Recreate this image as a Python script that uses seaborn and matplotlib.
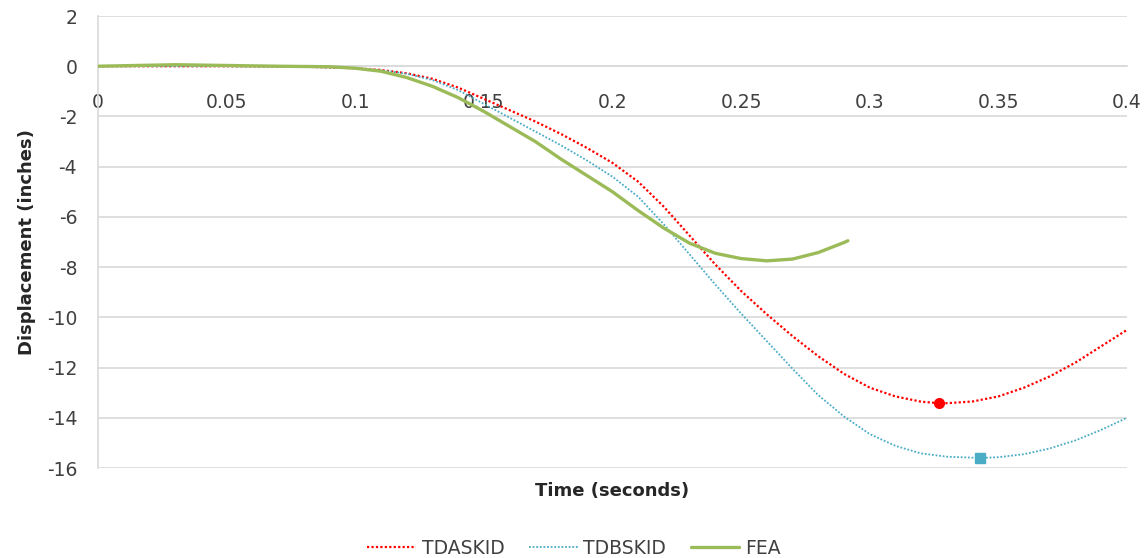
import pandas as pd
import matplotlib
matplotlib.use("Agg")
import matplotlib.pyplot as plt
from matplotlib.lines import Line2D
import seaborn as sns

# Values
t_a = [0.0, 0.05, 0.08, 0.10, 0.11, 0.12, 0.13, 0.14, 0.15, 0.16, 0.17, 0.18, 0.19, 0.20,
       0.21, 0.22, 0.23, 0.24, 0.25, 0.26, 0.27, 0.28, 0.29, 0.30, 0.31, 0.32, 0.327, 0.33,
       0.34, 0.35, 0.36, 0.37, 0.38, 0.39, 0.40]
tdaskid = [0.0, 0.0, -0.02, -0.08, -0.15, -0.28, -0.5, -0.85, -1.3, -1.75, -2.2, -2.7, -3.25, -3.85,
           -4.6, -5.6, -6.75, -7.9, -8.95, -9.88, -10.75, -11.55, -12.25, -12.8, -13.15, -13.36, -13.42, -13.42,
           -13.35, -13.15, -12.8, -12.35, -11.8, -11.15, -10.5]

t_b = [0.0, 0.05, 0.08, 0.10, 0.11, 0.12, 0.13, 0.14, 0.15, 0.16, 0.17, 0.18, 0.19, 0.20,
       0.21, 0.22, 0.23, 0.24, 0.25, 0.26, 0.27, 0.28, 0.29, 0.30, 0.31, 0.32, 0.33, 0.343,
       0.35, 0.36, 0.37, 0.38, 0.39, 0.40]
tdbskid = [0.0, 0.0, -0.02, -0.08, -0.16, -0.3, -0.55, -0.95, -1.5, -2.05, -2.6, -3.15, -3.75, -4.4,
           -5.2, -6.3, -7.5, -8.7, -9.85, -10.95, -12.05, -13.1, -13.95, -14.65, -15.12, -15.42, -15.55, -15.6,
           -15.57, -15.45, -15.22, -14.9, -14.48, -14.0]

t_fea = [0.0, 0.01, 0.03, 0.05, 0.07, 0.09, 0.10, 0.11, 0.12, 0.13, 0.14, 0.15, 0.16, 0.17, 0.18,
         0.19, 0.20, 0.21, 0.22, 0.23, 0.24, 0.25, 0.26, 0.27, 0.28, 0.29, 0.2915]
fea = [0.0, 0.02, 0.06, 0.03, 0.0, -0.02, -0.08, -0.2, -0.45, -0.8, -1.25, -1.8, -2.4, -3.0, -3.7,
       -4.35, -5.0, -5.75, -6.45, -7.05, -7.45, -7.66, -7.75, -7.68, -7.42, -7.02, -6.95]

# minimum markers
min_a = (0.327, -13.42)
min_b = (0.343, -15.6)

red = "#FF0000"
blue = "#4BACC6"
green = "#9BBB59"
grid = "#D9D9D9"

sns.set_style("white")
plt.rcParams["font.family"] = ["DejaVu Sans"]
plt.rcParams["axes.unicode_minus"] = False

fig = plt.figure(figsize=(11.48, 5.58), dpi=100)
ax = fig.add_axes([98 / 1148, 90 / 558, 1029 / 1148, 452 / 558])

df_a = pd.DataFrame({"t": t_a, "y": tdaskid})
df_b = pd.DataFrame({"t": t_b, "y": tdbskid})
df_f = pd.DataFrame({"t": t_fea, "y": fea})

sns.lineplot(data=df_a, x="t", y="y", color=red, lw=1.6, ls=(0, (1, 1)), ax=ax, zorder=3)
sns.lineplot(data=df_b, x="t", y="y", color=blue, lw=1.3, ls=(0, (1, 1)), ax=ax, zorder=3)
sns.lineplot(data=df_f, x="t", y="y", color=green, lw=2.4, ax=ax, zorder=4)
ax.plot(*min_a, "o", color=red, ms=7, zorder=5)
ax.plot(*min_b, "s", color=blue, ms=7, zorder=5)

ax.set_xlim(0, 0.4)
ax.set_ylim(-16, 2)
ax.set_xticks([0, 0.05, 0.1, 0.15, 0.2, 0.25, 0.3, 0.35, 0.4])
ax.set_xticklabels(["0", "0.05", "0.1", "0.15", "0.2", "0.25", "0.3", "0.35", "0.4"])
ax.set_yticks(range(-16, 3, 2))
ax.yaxis.grid(True, color=grid, lw=1.2)
ax.set_axisbelow(True)

for s in ["top", "right"]:
    ax.spines[s].set_visible(False)
ax.spines["bottom"].set_position(("data", 0))
ax.spines["bottom"].set_color(grid)
ax.spines["left"].set_color(grid)
ax.spines["left"].set_linewidth(1.2)
ax.spines["bottom"].set_linewidth(1.2)
ax.tick_params(axis="x", length=0, pad=19, labelsize=13.5, colors="#404040")
ax.tick_params(axis="y", length=0, pad=15, labelsize=13.5, colors="#404040")

ax.set_xlabel("Time (seconds)", fontsize=13, fontweight="bold", color="#262626")
ax.xaxis.set_label_coords(0.5, -0.03)
ax.set_ylabel("Displacement (inches)", fontsize=13, fontweight="bold", color="#262626")
ax.yaxis.set_label_coords(-0.06, 0.5)

handles = [Line2D([], [], color=red, lw=1.6, ls=(0, (1, 1))),
           Line2D([], [], color=blue, lw=1.3, ls=(0, (1, 1))),
           Line2D([], [], color=green, lw=2.4)]
fig.legend(handles, ["TDASKID", "TDBSKID", "FEA"], loc="center", bbox_to_anchor=(0.5, 10 / 558),
           ncol=3, frameon=False, fontsize=13.5, handlelength=2.6, handletextpad=0.3,
           columnspacing=1.3, labelcolor="#404040")

fig.savefig("out.png", dpi=100)
